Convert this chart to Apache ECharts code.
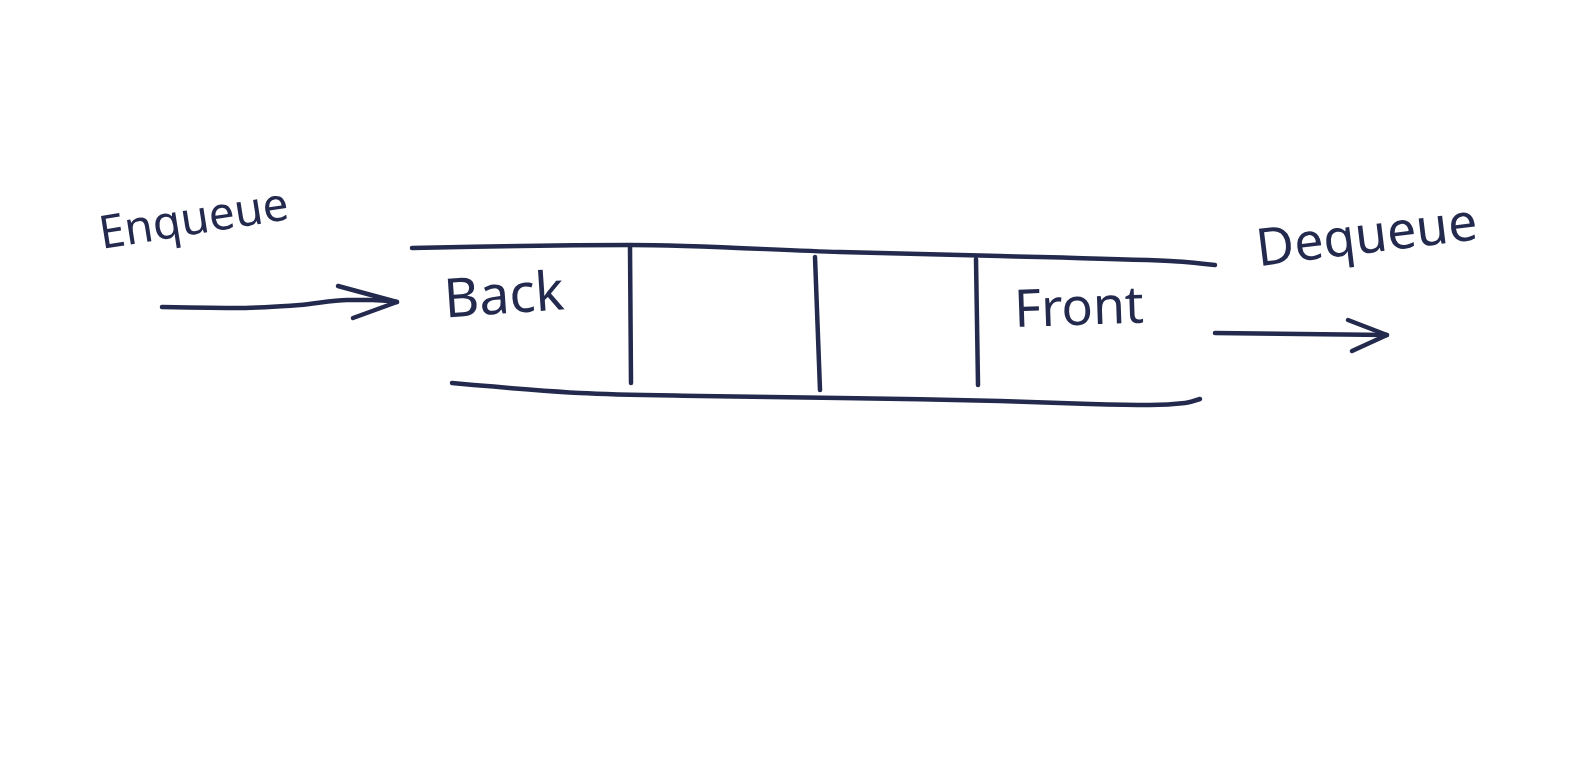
<!DOCTYPE html>
<html><head><meta charset="utf-8">
<script src="https://cdn.jsdelivr.net/npm/echarts@6/dist/echarts.min.js"></script>
<style>html,body{margin:0;padding:0;background:#fff;overflow:hidden}#c{width:1577px;height:776px}</style>
</head><body><div id="c"></div>
<script>
// Stroke paths (x, y) in picture units
var topEdge = [[412,248],[520,246],[630,245],[840,252],[1000,256],[1170,261],[1215,265]];
var bottomEdge = [[452,383],[580,393],[700,396],[840,398],[1000,401],[1090,404],[1150,405],[1185,403],[1200,399]];
var divider1 = [[630,247],[631,383]];
var divider2 = [[815,257],[820,390]];
var divider3 = [[976,259],[978,385]];
var enqueueShaft = [[162,307],[240,308],[300,305],[347,300],[372,300],[397,302]];
var enqueueHead = [[338,286],[397,302],[353,318]];
var dequeueShaft = [[1215,333],[1300,334],[1387,335]];
var dequeueHead = [[1348,320],[1387,335],[1352,351]];
// Labels
var labelNames = ["Enqueue","Back","Front","Dequeue"];
var labelPos = [[194,221],[504,298],[1079,310],[1367,238]];
var labelRot = [9,4,2,7];
var labelSize = [46,54,52,52];

var ink = '#232a4e';
var strokes = [topEdge,bottomEdge,divider1,divider2,divider3,enqueueShaft,enqueueHead,dequeueShaft,dequeueHead];
var series = strokes.map(function(s){
  return {type:'line',data:s,smooth:s.length>3?0.3:false,showSymbol:false,symbol:'none',
    lineStyle:{color:ink,width:4.5,cap:'round',join:'round'},silent:true};
});
series.push({type:'scatter',symbolSize:0,silent:true,itemStyle:{opacity:1},
  data:labelNames.map(function(n,i){
    return {value:labelPos[i],name:n,label:{show:true,position:'inside',formatter:n,rotate:labelRot[i],
      color:ink,fontFamily:'Noto Sans',fontSize:labelSize[i],fontWeight:'normal'}};
  })});
var chart = echarts.init(document.getElementById('c'));
chart.setOption({
  backgroundColor:'#fff',animation:false,
  grid:{left:0,right:0,top:0,bottom:0},
  xAxis:{type:'value',min:0,max:1577,show:false},
  yAxis:{type:'value',min:0,max:776,inverse:true,show:false},
  series:series
});
</script></body></html>
